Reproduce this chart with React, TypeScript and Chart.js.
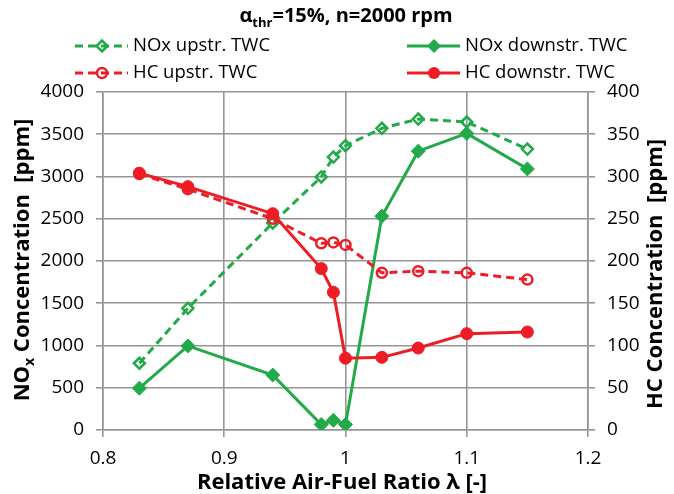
import { useEffect, useRef } from 'react';
import { Chart, registerables } from 'chart.js';

Chart.register(...registerables);

const lambda = [0.83, 0.87, 0.94, 0.98, 0.99, 1.0, 1.03, 1.06, 1.1, 1.15];
const noxUpstream = [790, 1440, 2450, 2995, 3230, 3365, 3570, 3680, 3645, 3325];
const noxDownstream = [495, 995, 650, 65, 115, 65, 2530, 3300, 3510, 3090];
const hcUpstream = [303, 285, 250, 221, 222, 219, 186, 188, 186, 178];
const hcDownstream = [304, 288, 256, 191, 163, 85, 86, 97, 114, 116];

const xTickValues = [0.8, 0.9, 1.0, 1.1, 1.2];
const noxTicks = [0, 500, 1000, 1500, 2000, 2500, 3000, 3500, 4000];
const hcTicks = [0, 50, 100, 150, 200, 250, 300, 350, 400];

const seriesLabels = ['NOx upstr. TWC', 'NOx downstr. TWC', 'HC upstr. TWC', 'HC downstr. TWC'];

const GREEN = '#22aa4a';
const RED = '#ee1c25';
const GRID = '#969696';
const FONT = "'Open Sans', 'DejaVu Sans', sans-serif";

function drawMarker(ctx: CanvasRenderingContext2D, kind: string, x: number, y: number, color: string) {
  ctx.save();
  ctx.setLineDash([]);
  ctx.lineWidth = 2.5;
  ctx.strokeStyle = color;
  ctx.fillStyle = color;
  ctx.beginPath();
  if (kind === 'diamondOpen' || kind === 'diamond') {
    const r = kind === 'diamond' ? 7 : 5.5;
    ctx.moveTo(x - r, y);
    ctx.lineTo(x, y - r);
    ctx.lineTo(x + r, y);
    ctx.lineTo(x, y + r);
    ctx.closePath();
  } else {
    const r = kind === 'circle' ? 6 : 5;
    ctx.arc(x, y, r, 0, Math.PI * 2);
  }
  if (kind === 'diamond' || kind === 'circle') ctx.fill();
  else ctx.stroke();
  ctx.restore();
}

const overlayPlugin = {
  id: 'overlay',
  afterDraw(chart: any) {
    const ctx: CanvasRenderingContext2D = chart.ctx;
    ctx.save();
    ctx.fillStyle = '#000';
    ctx.textBaseline = 'alphabetic';
    ctx.textAlign = 'left';

    // Title with subscript
    const big = `bold 20px ${FONT}`;
    const small = `bold 13px ${FONT}`;
    ctx.font = big;
    const wA = ctx.measureText('α').width;
    const wRest = ctx.measureText('=15%, n=2000 rpm').width;
    ctx.font = small;
    const wSub = ctx.measureText('thr').width;
    let tx = 346 - (wA + wSub + wRest) / 2;
    const ty = 22;
    ctx.font = big;
    ctx.fillText('α', tx, ty);
    tx += wA;
    ctx.font = small;
    ctx.fillText('thr', tx, ty + 5);
    tx += wSub;
    ctx.font = big;
    ctx.fillText('=15%, n=2000 rpm', tx, ty);

    // Legend
    const items = [
      { label: seriesLabels[0], color: GREEN, dash: true, marker: 'diamondOpen', x: 75, y: 46 },
      { label: seriesLabels[1], color: GREEN, dash: false, marker: 'diamond', x: 407, y: 46 },
      { label: seriesLabels[2], color: RED, dash: true, marker: 'circleOpen', x: 75, y: 73 },
      { label: seriesLabels[3], color: RED, dash: false, marker: 'circle', x: 407, y: 73 },
    ];
    ctx.font = `18.5px ${FONT}`;
    ctx.textBaseline = 'middle';
    for (const it of items) {
      ctx.save();
      ctx.strokeStyle = it.color;
      ctx.lineWidth = 3;
      ctx.setLineDash(it.dash ? [8, 5] : []);
      ctx.beginPath();
      ctx.moveTo(it.x, it.y);
      ctx.lineTo(it.x + 53, it.y);
      ctx.stroke();
      ctx.restore();
      drawMarker(ctx, it.marker, it.x + 27, it.y, it.color);
      ctx.fillStyle = '#000';
      ctx.fillText(it.label, it.x + 58, it.y);
    }

    const yb = `bold 22px ${FONT}`;
    const ys = `bold 14px ${FONT}`;

    // Left axis title (rotated) with subscript
    ctx.save();
    ctx.translate(23, 260);
    ctx.rotate(-Math.PI / 2);
    ctx.textBaseline = 'middle';
    ctx.font = yb;
    const wNO = ctx.measureText('NO').width;
    const wConc = ctx.measureText(' Concentration  [ppm]').width;
    ctx.font = ys;
    const wX = ctx.measureText('x').width;
    let lx = -(wNO + wX + wConc) / 2;
    ctx.font = yb;
    ctx.fillText('NO', lx, 0);
    lx += wNO;
    ctx.font = ys;
    ctx.fillText('x', lx, 7);
    lx += wX;
    ctx.font = yb;
    ctx.fillText(' Concentration  [ppm]', lx, 0);
    ctx.restore();

    // Right axis title
    ctx.save();
    ctx.translate(656, 274);
    ctx.rotate(-Math.PI / 2);
    ctx.textAlign = 'center';
    ctx.textBaseline = 'middle';
    ctx.font = yb;
    ctx.fillText('HC Concentration  [ppm]', 0, 0);
    ctx.restore();

    // X axis title
    ctx.textAlign = 'center';
    ctx.textBaseline = 'middle';
    ctx.font = `bold 22px ${FONT}`;
    ctx.fillText('Relative Air-Fuel Ratio λ [-]', 342, 483);

    ctx.restore();
  },
};

export default function App() {
  const ref = useRef<HTMLCanvasElement>(null);

  useEffect(() => {
    document.body.style.margin = '0';
    const canvas = ref.current!;
    const mk = (vals: number[]) => lambda.map((x, i) => ({ x, y: vals[i] }));
    const tickFont = { family: FONT, size: 19 };
    const chart = new Chart(canvas, {
      type: 'line',
      data: {
        datasets: [
          {
            label: seriesLabels[3],
            data: mk(hcDownstream),
            yAxisID: 'y1',
            borderColor: RED,
            backgroundColor: RED,
            borderWidth: 3,
            pointStyle: 'circle',
            pointRadius: 6,
            pointBorderWidth: 1,
          },
          {
            label: seriesLabels[2],
            data: mk(hcUpstream),
            yAxisID: 'y1',
            borderColor: RED,
            backgroundColor: 'rgba(0,0,0,0)',
            borderWidth: 3,
            borderDash: [8, 5],
            pointStyle: 'circle',
            pointRadius: 5,
            pointBorderWidth: 2.5,
          },
          {
            label: seriesLabels[1],
            data: mk(noxDownstream),
            yAxisID: 'y',
            borderColor: GREEN,
            backgroundColor: GREEN,
            borderWidth: 3,
            pointStyle: 'rectRot',
            pointRadius: 7,
            pointBorderWidth: 1,
          },
          {
            label: seriesLabels[0],
            data: mk(noxUpstream),
            yAxisID: 'y',
            borderColor: GREEN,
            backgroundColor: 'rgba(0,0,0,0)',
            borderWidth: 3,
            borderDash: [8, 5],
            pointStyle: 'rectRot',
            pointRadius: 5.5,
            pointBorderWidth: 2.5,
          },
        ],
      },
      options: {
        responsive: false,
        animation: false,
        layout: { padding: { top: 92, left: 0, right: 0, bottom: 0 } },
        plugins: {
          legend: { display: false },
          title: { display: false },
          tooltip: { enabled: false },
        },
        scales: {
          x: {
            type: 'linear',
            min: xTickValues[0],
            max: xTickValues[xTickValues.length - 1],
            afterBuildTicks: (s: any) => {
              s.ticks = xTickValues.map((v) => ({ value: v }));
            },
            afterFit: (s: any) => {
              s.height = 64;
            },
            ticks: {
              font: tickFont,
              color: '#000',
              padding: 10,
              callback: (v: any) => String(Math.round(Number(v) * 10) / 10),
            },
            grid: { color: GRID, lineWidth: 1.6, tickLength: 7 },
            border: { color: GRID, width: 1.6 },
          },
          y: {
            position: 'left',
            min: 0,
            max: 4000,
            afterBuildTicks: (s: any) => {
              s.ticks = noxTicks.map((v) => ({ value: v }));
            },
            afterFit: (s: any) => {
              s.width = 103;
            },
            ticks: { font: tickFont, color: '#000', padding: 12, callback: (v: any) => String(v) },
            grid: { color: GRID, lineWidth: 1.6, tickLength: 7 },
            border: { color: GRID, width: 1.6 },
          },
          y1: {
            position: 'right',
            min: 0,
            max: 400,
            afterBuildTicks: (s: any) => {
              s.ticks = hcTicks.map((v) => ({ value: v }));
            },
            afterFit: (s: any) => {
              s.width = 86;
            },
            ticks: { font: tickFont, color: '#000', padding: 12, callback: (v: any) => String(v) },
            grid: { drawOnChartArea: false, color: GRID, lineWidth: 1.6, tickLength: 7 },
            border: { color: GRID, width: 1.6 },
          },
        },
      } as any,
      plugins: [overlayPlugin],
    });
    return () => chart.destroy();
  }, []);

  return (
    <div style={{ position: 'fixed', left: 0, top: 0, width: 674, height: 494, background: '#fff' }}>
      <canvas ref={ref} width={674} height={494} />
    </div>
  );
}
